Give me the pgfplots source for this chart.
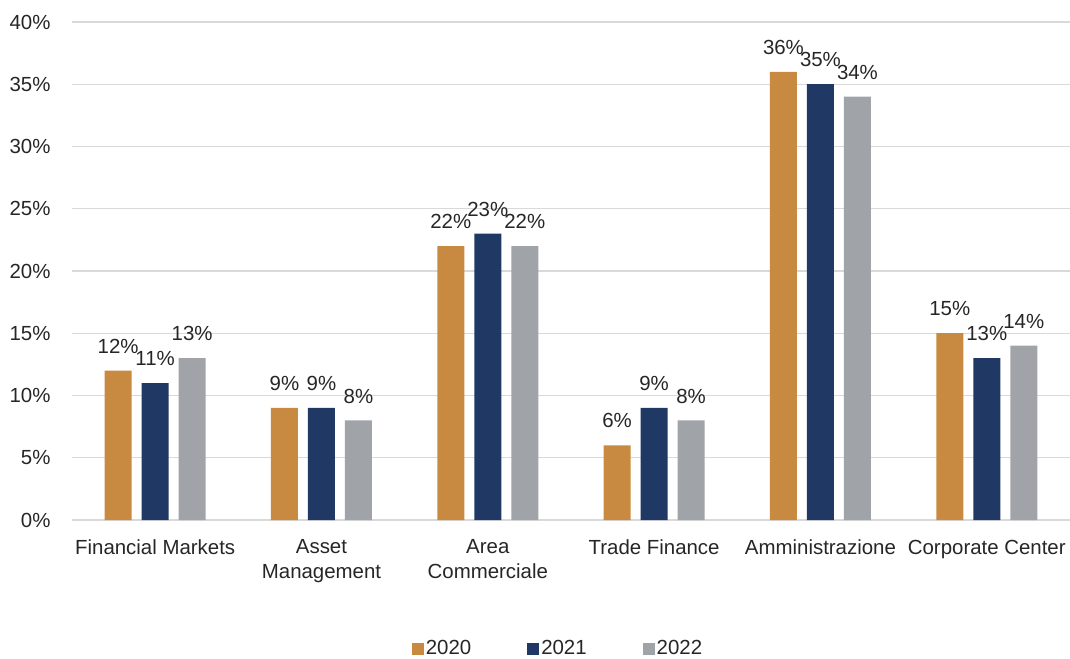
\documentclass[border=0pt]{standalone}
\usepackage{pgfplots}
\pgfplotsset{compat=1.18}
\usepackage{fontspec}
\setmainfont{Liberation Sans}
\definecolor{cOrange}{RGB}{200,137,64}
\definecolor{cNavy}{RGB}{31,56,100}
\definecolor{cGray}{RGB}{160,163,168}
\definecolor{cGrid}{RGB}{217,217,217}
\definecolor{cText}{RGB}{38,38,38}
\begin{document}
\begin{tikzpicture}
\begin{axis}[
    at={(72bp,139bp)}, anchor=south west,
    scale only axis,
    width=998bp, height=498bp,
    ybar=10bp, bar width=27bp,
    xmin=-0.5, xmax=5.5,
    ymin=0, ymax=40,
    xtick=data,
    xticklabels={Financial Markets, {Asset\\Management}, {Area\\Commerciale}, Trade Finance, Amministrazione, Corporate Center},
    ytick={0,5,...,40},
    yticklabel={\pgfmathprintnumber{\tick}\%},
    /pgf/number format/assume math mode=true,
    tick style={draw=none},
    axis x line*=bottom,
    axis y line*=left,
    y axis line style={draw=none},
    x axis line style={draw=cGrid, line width=1.2bp},
    ymajorgrids=true,
    grid style={draw=cGrid, line width=1.2bp},
    every tick label/.append style={font=\fontsize{20.5}{25}\selectfont, text=cText},
    xticklabel style={align=center, yshift=-12bp},
    yticklabel style={xshift=-18bp},
    nodes near coords={\pgfmathprintnumber{\pgfplotspointmeta}\%},
    every node near coord/.append style={font=\fontsize{20.5}{25}\selectfont, text=cText, anchor=south, inner sep=0pt, yshift=17bp},
    legend style={at={(0.487,-0.257)}, anchor=center, draw=none, legend columns=3,
        font=\fontsize{20.5}{25}\selectfont, text=cText,
        nodes={inner sep=2bp},
        /tikz/every even column/.append style={column sep=54bp}},
    legend image code/.code={\fill[#1] (-3bp,-7bp) rectangle (9bp,5bp);},
    clip=false,
]
\addplot[draw=none, fill=cOrange] coordinates {(0,12) (1,9) (2,22) (3,6) (4,36) (5,15)};
\addplot[draw=none, fill=cNavy] coordinates {(0,11) (1,9) (2,23) (3,9) (4,35) (5,13)};
\addplot[draw=none, fill=cGray] coordinates {(0,13) (1,8) (2,22) (3,8) (4,34) (5,14)};
\legend{2020, 2021, 2022}
\end{axis}
\pgfresetboundingbox
\path[use as bounding box] (0,0) rectangle (1070bp,659bp);
\end{tikzpicture}
\end{document}
